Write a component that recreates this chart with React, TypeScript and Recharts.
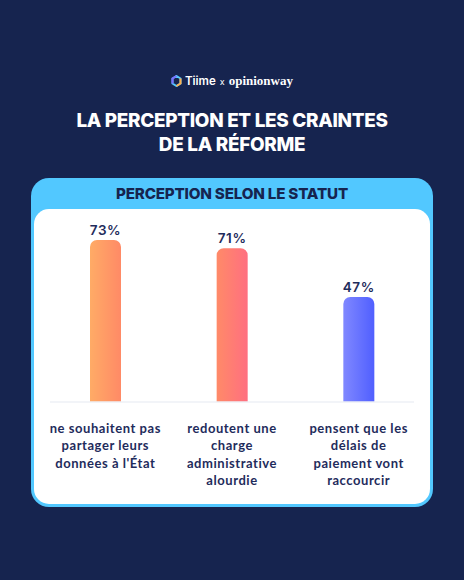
import React from 'react';
import { BarChart, Bar, Cell, XAxis, YAxis, LabelList, ReferenceLine } from 'recharts';

const categories = [
  "ne souhaitent pas|partager leurs|données à l'État",
  'redoutent une|charge|administrative|alourdie',
  'pensent que les|délais de|paiement vont|raccourcir',
];
// bar heights as measured on the picture (the middle bar is drawn a little shorter than its label says)
const barHeights = [73, 69.3, 47.3];
const valueLabels = ['73%', '71%', '47%'];
const gradients = [
  ['#ffab66', '#ff8a66'],
  ['#ff8a68', '#ff6f80'],
  ['#8088ff', '#505fff'],
];

const data = categories.map((name, i) => ({ name, value: barHeights[i], label: valueLabels[i] }));

const NAVY = '#16244f';
const BLUE = '#52c8ff';
const HEAD = 'Inter, sans-serif';
const BODY = 'Lato, sans-serif';

const CategoryTick = ({ x, y, payload }: any) => (
  <text x={x} y={y} textAnchor="middle" fill="#1f2c5c" fontFamily={BODY} fontWeight={700} fontSize={13} letterSpacing={0.55}>
    {String(payload.value).split('|').map((line, i) => (
      <tspan key={i} x={x} y={y + 22.5 + i * 17.5}>{line}</tspan>
    ))}
  </text>
);

const Baseline = ({ x1, x2, y1 }: any) => (
  <line x1={x1 + 8} x2={x2 - 8} y1={y1} y2={y1} stroke="#eef1f6" strokeWidth={1.5} />
);

const Logo = () => (
  <div style={{ position: 'absolute', top: 72, left: 0, width: 464, height: 18, display: 'flex', justifyContent: 'center', alignItems: 'center', color: '#fff' }}>
    <svg width={11} height={12} viewBox="0 0 22 24" style={{ marginRight: 3 }}>
      <polygon points="11,2 19,7 19,17 11,22 3,17 3,7" fill="none" stroke="#52c8ff" strokeWidth={4} />
      <polyline points="3,17 3,7 11,2" fill="none" stroke="#7d6bff" strokeWidth={4} />
      <polyline points="19,7 19,17 11,22" fill="none" stroke="#ffb14e" strokeWidth={4} />
    </svg>
    <span style={{ fontFamily: HEAD, fontWeight: 600, fontSize: 11.5 }}>Tiime</span>
    <span style={{ fontFamily: HEAD, fontSize: 9, margin: '0 4px' }}>x</span>
    <span style={{ fontFamily: '"Liberation Serif", serif', fontWeight: 700, fontSize: 13 }}>opinionway</span>
  </div>
);

export default function App() {
  return (
    <div style={{ position: 'absolute', left: 0, top: 0, width: 464, height: 580, background: NAVY, overflow: 'hidden' }}>
      <Logo />
      <div style={{ position: 'absolute', top: 109, left: 0, width: 464, textAlign: 'center', color: '#fff', fontFamily: HEAD, fontWeight: 800, fontSize: 18.9, lineHeight: '23.5px', letterSpacing: -0.3 }}>
        LA PERCEPTION ET LES CRAINTES<br />DE LA RÉFORME
      </div>
      <div style={{ position: 'absolute', left: 31, top: 178, width: 402, height: 329, background: BLUE, borderRadius: 18 }} />
      <div style={{ position: 'absolute', left: 31, top: 184, width: 402, textAlign: 'center', color: NAVY, fontFamily: HEAD, fontWeight: 800, fontSize: 15.2, lineHeight: '20px', letterSpacing: -0.2 }}>
        PERCEPTION SELON LE STATUT
      </div>
      <div style={{ position: 'absolute', left: 34, top: 209, width: 396, height: 295, background: '#fff', borderRadius: 15 }} />
      <div style={{ position: 'absolute', left: 0, top: 0 }}>
        <BarChart width={464} height={580} data={data} margin={{ top: 180, right: 42, bottom: 73, left: 42 }} barSize={31}>
          <defs>
            {gradients.map((g, i) => (
              <linearGradient key={i} id={`bar-${i}`} x1="0" y1="0" x2="1" y2="0">
                <stop offset="0%" stopColor={g[0]} />
                <stop offset="100%" stopColor={g[1]} />
              </linearGradient>
            ))}
          </defs>
          <XAxis dataKey="name" height={105} axisLine={false} tickLine={false} interval={0} tick={<CategoryTick />} />
          <YAxis hide domain={[0, 100]} />
          <ReferenceLine y={0} shape={<Baseline />} />
          <Bar dataKey="value" radius={[7, 7, 0, 0]} isAnimationActive={false}>
            {data.map((_, i) => <Cell key={i} fill={`url(#bar-${i})`} />)}
            <LabelList dataKey="label" position="top" offset={5} fill="#1f2c5c" fontFamily={HEAD} fontWeight={600} fontSize={13.5} letterSpacing={0.6} />
          </Bar>
        </BarChart>
      </div>
    </div>
  );
}
